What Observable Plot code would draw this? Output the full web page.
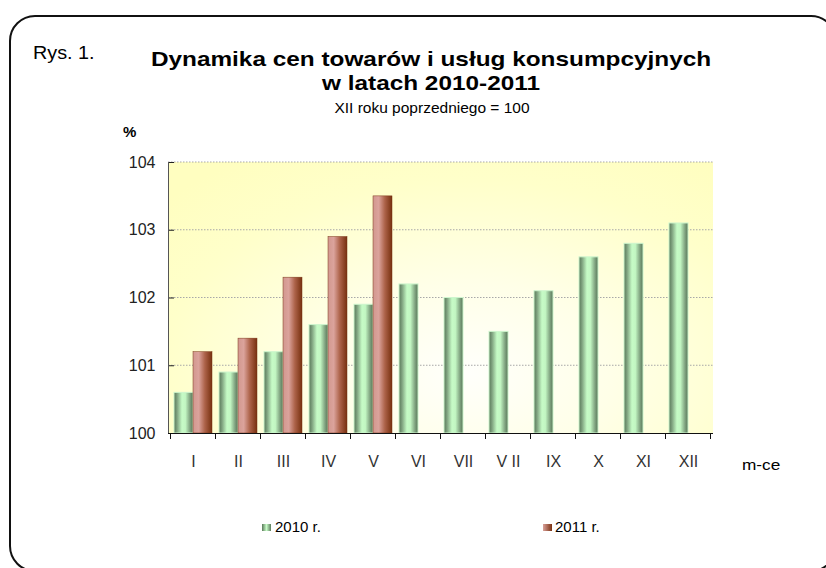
<!DOCTYPE html>
<html><head><meta charset="utf-8">
<script src="https://cdn.jsdelivr.net/npm/d3@7"></script>
<script src="https://cdn.jsdelivr.net/npm/@observablehq/plot@0.6"></script>
<style>
body{margin:0;background:#fff;font-family:"Liberation Sans",Arial,sans-serif;}
#wrap{position:relative;width:826px;height:568px;overflow:hidden;background:#fff;}
#border{position:absolute;left:9px;top:15px;width:828px;height:557px;border:2px solid #111;border-radius:26px;box-sizing:border-box;}
#bg{position:absolute;left:168px;top:162px;width:545px;height:271px;
 background:radial-gradient(ellipse 75% 95% at 55% 78%, #fffffb 0%, #ffffe8 35%, #ffffca 75%, #fffec0 100%);}
#chart{position:absolute;left:0;top:0;}
#ann{position:absolute;left:0;top:0;}
#ann text{font-family:"Liberation Sans",Arial,sans-serif;fill:#000;}
</style></head>
<body>
<div id="wrap">
  <div id="border"></div>
  <div id="bg"></div>
  <div id="chart"></div>
  <svg id="ann" width="826" height="568">
    <text transform="translate(33,59) scale(1.1,1)" font-size="18">Rys. 1.</text>
    <text transform="translate(431,66) scale(1.16,1)" font-size="21" font-weight="bold" text-anchor="middle">Dynamika cen towarów i usług konsumpcyjnych</text>
    <text transform="translate(431,90) scale(1.16,1)" font-size="21" font-weight="bold" text-anchor="middle">w latach 2010-2011</text>
    <text transform="translate(432,113)" font-size="15.5" text-anchor="middle">XII roku poprzedniego = 100</text>
    <text x="123" y="137" font-size="15" font-weight="bold">%</text>
    <text transform="translate(742,470) scale(1.15,1)" font-size="15" fill="#222">m-ce</text>
    <defs>
      <linearGradient id="lg2010" x1="0" x2="1" y1="0" y2="0">
        <stop offset="0" stop-color="#5a7a5a"/><stop offset="0.5" stop-color="#c8fcc8"/><stop offset="1" stop-color="#5a7a5a"/>
      </linearGradient>
      <linearGradient id="lg2011" x1="0" x2="1" y1="0" y2="0">
        <stop offset="0" stop-color="#d9a19a"/><stop offset="1" stop-color="#7a3010"/>
      </linearGradient>
    </defs>
    <rect x="262" y="524" width="9" height="7" fill="url(#lg2010)"/>
    <text x="275" y="532" font-size="15" fill="#111">2010 r.</text>
    <rect x="543" y="524" width="9" height="7" fill="url(#lg2011)"/>
    <text x="555" y="532" font-size="15" fill="#111">2011 r.</text>
  </svg>
</div>
<script>
// ---- data ----
const months = ["I","II","III","IV","V","VI","VII","V II","IX","X","XI","XII"];
const years = ["2010","2011"];
const values2010 = [100.6, 100.9, 101.2, 101.6, 101.9, 102.2, 102.0, 101.5, 102.1, 102.6, 102.8, 103.1];
const values2011 = [101.2, 101.4, 102.3, 102.9, 103.5];
const yTicks = [100, 101, 102, 103, 104];
const baseline = 100;

const rows2010 = values2010.map((v, i) => ({month: months[i], year: "2010", value: v}));
const rows2011 = values2011.map((v, i) => ({month: months[i], year: "2011", value: v}));

const plot = Plot.plot({
  width: 826, height: 568,
  marginLeft: 168, marginRight: 113, marginTop: 162, marginBottom: 135,
  style: {background: "transparent", color: "#222", fontFamily: "Liberation Sans, Arial, sans-serif"},
  fx: {domain: months, paddingInner: 0.16, paddingOuter: 0.08, label: null},
  x: {domain: years, padding: 0, axis: null},
  y: {domain: [yTicks[0], yTicks[yTicks.length - 1]], label: null},
  marks: [
    Plot.axisY({ticks: yTicks, tickSize: 6, tickPadding: 13, fontSize: 16, label: null, tickFormat: d => String(d), fill: "#222"}),
    Plot.axisFx({anchor: "bottom", tickSize: 0, tickPadding: 22, fontSize: 16, label: null, fill: "#333"}),
    Plot.barY(rows2010, {fx: "month", x: "year", y1: baseline, y2: "value", fill: "url(#g2010)", stroke: "#cdf5cd", strokeWidth: 1}),
    Plot.barY(rows2011, {fx: "month", x: "year", y1: baseline, y2: "value", fill: "url(#g2011)", stroke: "#7a3416", strokeWidth: 0.5})
  ]
});
document.getElementById("chart").appendChild(plot);

const svg = d3.select(plot);
const defs = svg.insert("defs", ":first-child");
const g1 = defs.append("linearGradient").attr("id", "g2010").attr("x1", 0).attr("x2", 1).attr("y1", 0).attr("y2", 0);
[[0, "#5a7a5a"], [0.15, "#7d9f7d"], [0.42, "#c6fbc6"], [0.6, "#c2f6c2"], [0.85, "#7d9f7d"], [1, "#587858"]]
  .forEach(([o, c]) => g1.append("stop").attr("offset", o).attr("stop-color", c));
const g2 = defs.append("linearGradient").attr("id", "g2011").attr("x1", 0).attr("x2", 1).attr("y1", 0).attr("y2", 0);
[[0, "#d2988f"], [0.3, "#dba39c"], [0.62, "#ad634a"], [1, "#77300f"]]
  .forEach(([o, c]) => g2.append("stop").attr("offset", o).attr("stop-color", c));

// grid, axis lines and boundary ticks drawn from the plot's own scales
const fx = plot.scale("fx"), y = plot.scale("y");
const x0 = fx.range[0], x1 = fx.range[1];
const grid = svg.insert("g", "defs + *");
yTicks.slice(1).forEach(t => {
  grid.append("line").attr("x1", x0).attr("x2", x1).attr("y1", y.apply(t)).attr("y2", y.apply(t))
    .attr("stroke", "#a8a8a8").attr("stroke-dasharray", "1.5,1.5").attr("stroke-width", 1);
});
const axes = svg.append("g").attr("stroke", "#111");
axes.append("line").attr("x1", x0 + 0.5).attr("x2", x0 + 0.5).attr("y1", y.apply(yTicks[0])).attr("y2", y.apply(yTicks[yTicks.length - 1])).attr("stroke", "#555");
axes.append("line").attr("x1", x0).attr("x2", x1).attr("y1", y.apply(baseline) + 0.5).attr("y2", y.apply(baseline) + 0.5).attr("stroke-width", 1.2);
const gap = (fx.step - fx.bandwidth) / 2;
const bounds = months.map(m => fx.apply(m) - gap).concat([fx.apply(months[months.length - 1]) + fx.bandwidth + gap]);
bounds.forEach(b => {
  axes.append("line").attr("x1", b).attr("x2", b).attr("y1", y.apply(baseline)).attr("y2", y.apply(baseline) + 6);
});
</script>
</body></html>
